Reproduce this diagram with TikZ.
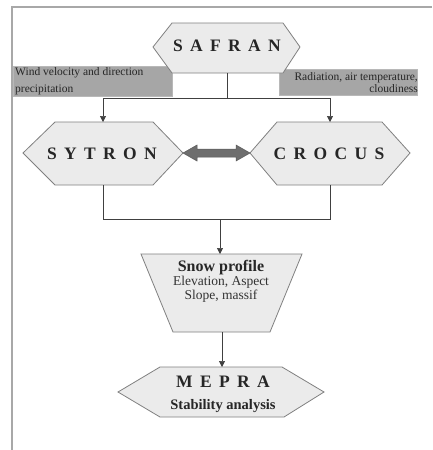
\documentclass[tikz,border=0pt]{standalone}
\usepackage{fontspec}
\setmainfont{Liberation Serif}
\usetikzlibrary{arrows.meta}
\definecolor{hexfill}{HTML}{EBEBEB}
\definecolor{hexline}{HTML}{808080}
\definecolor{lblfill}{HTML}{A6A6A6}
\definecolor{framec}{HTML}{A8A8A8}
\definecolor{dblfill}{HTML}{6E6E6E}
\newcommand\gapsp{\hspace{0.42em}}
\begin{document}
\begin{tikzpicture}[x=1pt,y=-1pt,
  shapeline/.style={draw=hexline,fill=hexfill,line width=0.8pt},
  conn/.style={draw=black!75,line width=0.7pt},
  arr/.style={conn,-{Triangle[length=6pt,width=6pt]}},
  titletext/.style={font=\bfseries\fontsize{17.5}{17.5}\selectfont,text=black!85,inner sep=0pt},
  subtext/.style={font=\fontsize{13.5}{13.5}\selectfont,text=black!80,inner sep=0pt,align=center},
  lbltext/.style={font=\fontsize{11.5}{17}\selectfont,text=black!85,inner sep=0pt},
  lblbox/.style={fill=lblfill,draw=lblfill!80!white,line width=0.5pt}]
\useasboundingbox (0,0) rectangle (432,450);
\fill[white] (0,0) rectangle (432,450);
% frame
\draw[framec,line width=1.4pt] (12,450) -- (12,7) -- (432,7);
% label boxes
\path[lblbox] (13,66) rectangle (172,96);
\path[lblbox] (279,69) rectangle (417,95);
\node[lbltext,anchor=west,align=left] (windlbl) at (15,81) {Wind velocity and direction\\precipitation};
\node[lbltext,anchor=east,align=right,font=\fontsize{11.5}{11.5}\selectfont] (radlbl) at (418,82.5) {Radiation, air temperature,\\cloudiness};
% shapes
\path[shapeline] (153,47) -- (172,23) -- (283,23) -- (300,47) -- (283,73) -- (172,73) -- cycle;
\path[shapeline] (23,153) -- (55,122) -- (153,122) -- (183,153) -- (153,185) -- (55,185) -- cycle;
\path[shapeline] (250,153) -- (277,122) -- (382,122) -- (410,153) -- (382,185) -- (277,185) -- cycle;
\path[shapeline] (141,254) -- (302,254) -- (270,332) -- (173,332) -- cycle;
\path[shapeline] (118,392) -- (160,367) -- (282,367) -- (324,392) -- (284,417) -- (160,417) -- cycle;
% texts
\node[titletext] (safran) at (227,46) {S\gapsp A\gapsp F\gapsp R\gapsp A\gapsp N};
\node[titletext] (sytron) at (102,154) {S\gapsp Y\gapsp T\gapsp R\gapsp O\gapsp N};
\node[titletext] (crocus) at (329,154) {C\gapsp R\gapsp O\gapsp C\gapsp U\gapsp S};
\node[font=\bfseries\fontsize{16}{16}\selectfont,text=black!85,inner sep=0pt] (snow) at (221,268) {Snow profile};
\node[subtext] (snowsub) at (221,289.5) {Elevation, Aspect\\Slope, massif};
\node[titletext] (mepra) at (223,382) {M\gapsp E\gapsp P\gapsp R\gapsp A};
\node[font=\bfseries\fontsize{14.5}{14.5}\selectfont,text=black!85,inner sep=0pt] (stab) at (223,406) {Stability analysis};
% connector coordinates
\coordinate (safB) at (227,73);
\coordinate (splitM) at (227,98);
\coordinate (splitL) at (103,98);
\coordinate (splitR) at (330,98);
\coordinate (sytT) at (103,122);
\coordinate (croT) at (330,122);
\coordinate (sytB) at (103,185);
\coordinate (croB) at (330,185);
\coordinate (joinL) at (103,219);
\coordinate (joinR) at (330,219);
\coordinate (joinM) at (220,219);
\coordinate (snowT) at (220,254);
\coordinate (snowB) at (222,332);
\coordinate (mepT) at (222,367);
\draw[conn] (safB) -- (splitM);
\draw[conn] (splitL) -- (splitR);
\draw[arr] (splitL) -- (sytT);
\draw[arr] (splitR) -- (croT);
\draw[conn] (sytB) -- (joinL) -- (joinR) -- (croB);
\draw[arr] (joinM) -- (snowT);
\draw[arr] (snowB) -- (mepT);
% double arrow
\path[fill=dblfill,draw=dblfill!80!black,line width=0.5pt]
  (183,153) -- (197,145) -- (197,149) -- (236,149) -- (236,145) -- (250,153)
  -- (236,161) -- (236,157) -- (197,157) -- (197,161) -- cycle;
\end{tikzpicture}
\end{document}
